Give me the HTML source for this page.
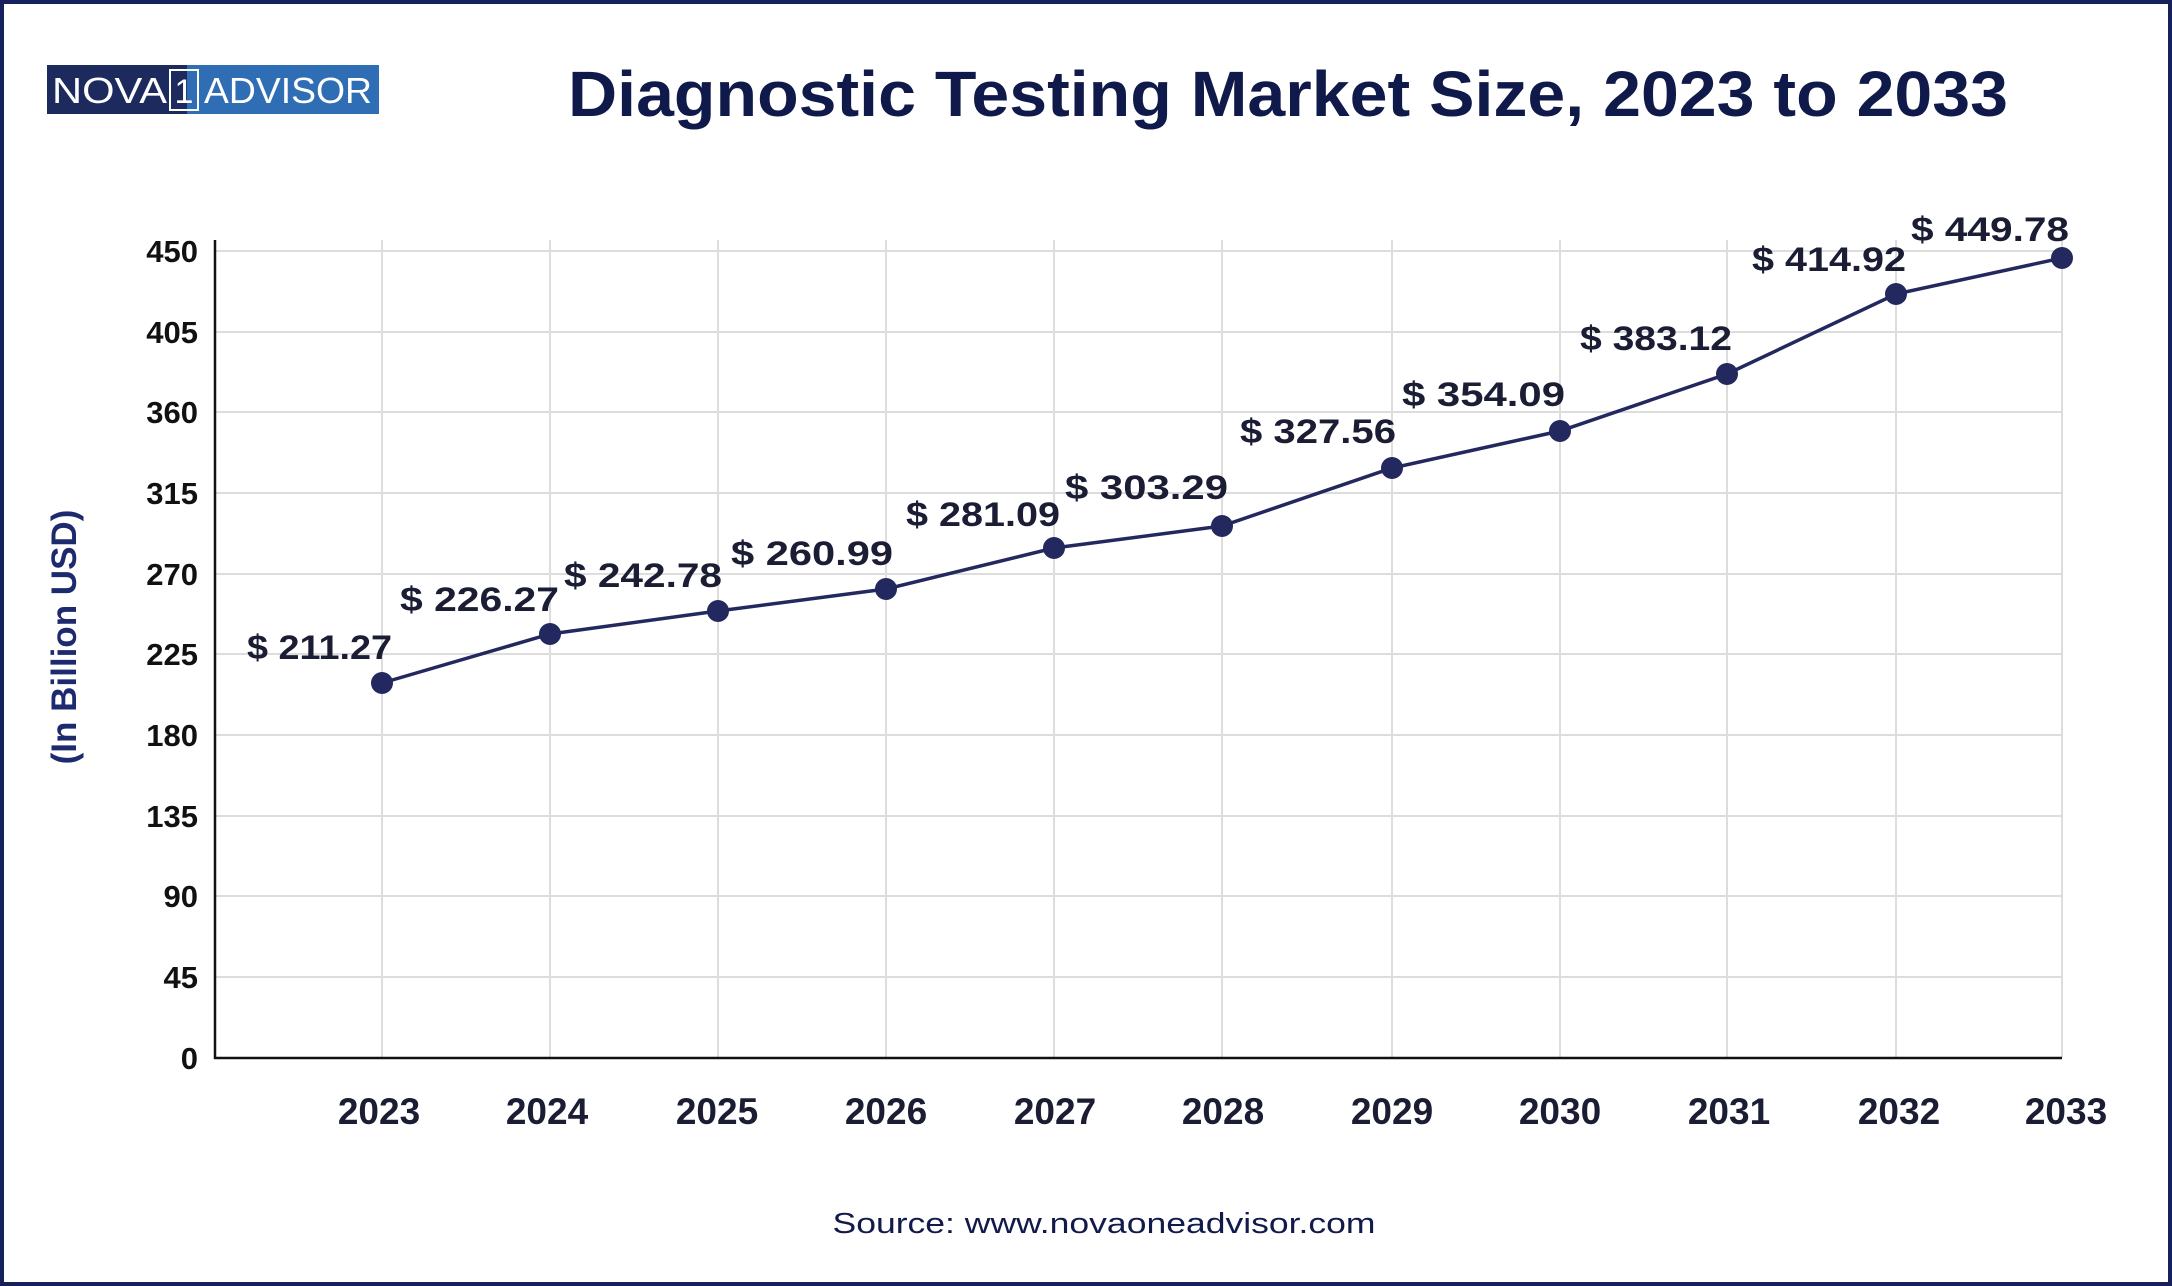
<!DOCTYPE html>
<html><head><meta charset="utf-8"><style>
html,body{margin:0;padding:0;background:#fff}
svg{display:block}
</style></head><body>
<svg width="2172" height="1286" viewBox="0 0 2172 1286" xmlns="http://www.w3.org/2000/svg" font-family="Liberation Sans, sans-serif">
<rect x="2" y="2" width="2168" height="1282" fill="#fff" stroke="#16205a" stroke-width="4"/>
<!-- logo -->
<rect x="47" y="65" width="140" height="49" fill="#1d2a5e"/>
<rect x="187" y="65" width="192" height="49" fill="#2f6db5"/>
<text x="52" y="103" font-size="36" fill="#fff" textLength="115" lengthAdjust="spacingAndGlyphs">NOVA</text>
<rect x="170" y="70" width="28" height="40" fill="none" stroke="#fff" stroke-width="2"/>
<text x="184" y="103" font-size="34" fill="#fff" text-anchor="middle">1</text>
<text x="204" y="103" font-size="36" fill="#fff" textLength="168" lengthAdjust="spacingAndGlyphs">ADVISOR</text>
<!-- title -->
<text x="1288" y="116" text-anchor="middle" font-size="64" font-weight="bold" fill="#0f1a4a" textLength="1440" lengthAdjust="spacingAndGlyphs">Diagnostic Testing Market Size, 2023 to 2033</text>
<!-- grid -->
<g stroke="#dddddd" stroke-width="2">
<line x1="215" y1="251" x2="2062" y2="251"/><line x1="215" y1="332" x2="2062" y2="332"/>
<line x1="215" y1="412" x2="2062" y2="412"/><line x1="215" y1="493" x2="2062" y2="493"/>
<line x1="215" y1="574" x2="2062" y2="574"/><line x1="215" y1="654" x2="2062" y2="654"/>
<line x1="215" y1="735" x2="2062" y2="735"/><line x1="215" y1="816" x2="2062" y2="816"/>
<line x1="215" y1="896" x2="2062" y2="896"/><line x1="215" y1="977" x2="2062" y2="977"/>
<line x1="382" y1="240" x2="382" y2="1058"/><line x1="550" y1="240" x2="550" y2="1058"/>
<line x1="718" y1="240" x2="718" y2="1058"/><line x1="886" y1="240" x2="886" y2="1058"/>
<line x1="1054" y1="240" x2="1054" y2="1058"/><line x1="1222" y1="240" x2="1222" y2="1058"/>
<line x1="1392" y1="240" x2="1392" y2="1058"/><line x1="1560" y1="240" x2="1560" y2="1058"/>
<line x1="1727" y1="240" x2="1727" y2="1058"/><line x1="1896" y1="240" x2="1896" y2="1058"/>
<line x1="2062" y1="240" x2="2062" y2="1058"/>
</g>
<line x1="215" y1="240" x2="215" y2="1059" stroke="#111" stroke-width="2.5"/>
<line x1="214" y1="1058" x2="2062" y2="1058" stroke="#111" stroke-width="2.5"/>
<!-- y ticks -->
<g font-size="31" font-weight="bold" fill="#111" text-anchor="end">
<text x="198" y="262">450</text><text x="198" y="343">405</text><text x="198" y="423">360</text>
<text x="198" y="504">315</text><text x="198" y="585">270</text><text x="198" y="665">225</text>
<text x="198" y="746">180</text><text x="198" y="827">135</text><text x="198" y="907">90</text>
<text x="198" y="988">45</text><text x="198" y="1069">0</text>
</g>
<text transform="translate(76,637) rotate(-90)" text-anchor="middle" font-size="35" font-weight="bold" fill="#1d2a6e">(In Billion USD)</text>
<!-- x labels -->
<g font-size="37" font-weight="bold" fill="#1a1d33" text-anchor="middle">
<text x="379" y="1124">2023</text><text x="547" y="1124">2024</text><text x="717" y="1124">2025</text>
<text x="886" y="1124">2026</text><text x="1055" y="1124">2027</text><text x="1223" y="1124">2028</text>
<text x="1392" y="1124">2029</text><text x="1560" y="1124">2030</text><text x="1729" y="1124">2031</text>
<text x="1899" y="1124">2032</text><text x="2066" y="1124">2033</text>
</g>
<!-- series -->
<polyline fill="none" stroke="#23295e" stroke-width="3.5" points="382,683 550,634 718,611 886,589 1054,548 1222,526 1392,468 1560,431 1727,374 1896,294 2062,258"/>
<g fill="#23295e">
<circle cx="382" cy="683" r="11"/><circle cx="550" cy="634" r="11"/><circle cx="718" cy="611" r="11"/>
<circle cx="886" cy="589" r="11"/><circle cx="1054" cy="548" r="11"/><circle cx="1222" cy="526" r="11"/>
<circle cx="1392" cy="468" r="11"/><circle cx="1560" cy="431" r="11"/><circle cx="1727" cy="374" r="11"/>
<circle cx="1896" cy="294" r="11"/><circle cx="2062" cy="258" r="11"/>
</g>
<g font-size="34" font-weight="bold" fill="#1a1d33">
<text x="247" y="659" textLength="145" lengthAdjust="spacingAndGlyphs">$ 211.27</text>
<text x="400" y="611" textLength="159" lengthAdjust="spacingAndGlyphs">$ 226.27</text>
<text x="564" y="587" textLength="158" lengthAdjust="spacingAndGlyphs">$ 242.78</text>
<text x="731" y="565" textLength="162" lengthAdjust="spacingAndGlyphs">$ 260.99</text>
<text x="906" y="526" textLength="154" lengthAdjust="spacingAndGlyphs">$ 281.09</text>
<text x="1065" y="499" textLength="163" lengthAdjust="spacingAndGlyphs">$ 303.29</text>
<text x="1240" y="443" textLength="156" lengthAdjust="spacingAndGlyphs">$ 327.56</text>
<text x="1402" y="406" textLength="163" lengthAdjust="spacingAndGlyphs">$ 354.09</text>
<text x="1580" y="350" textLength="152" lengthAdjust="spacingAndGlyphs">$ 383.12</text>
<text x="1752" y="271" textLength="154" lengthAdjust="spacingAndGlyphs">$ 414.92</text>
<text x="1911" y="241" textLength="158" lengthAdjust="spacingAndGlyphs">$ 449.78</text>
</g>
<text x="1104" y="1233" text-anchor="middle" font-size="29" fill="#111a4a" textLength="543" lengthAdjust="spacingAndGlyphs">Source: www.novaoneadvisor.com</text>
</svg>
</body></html>
